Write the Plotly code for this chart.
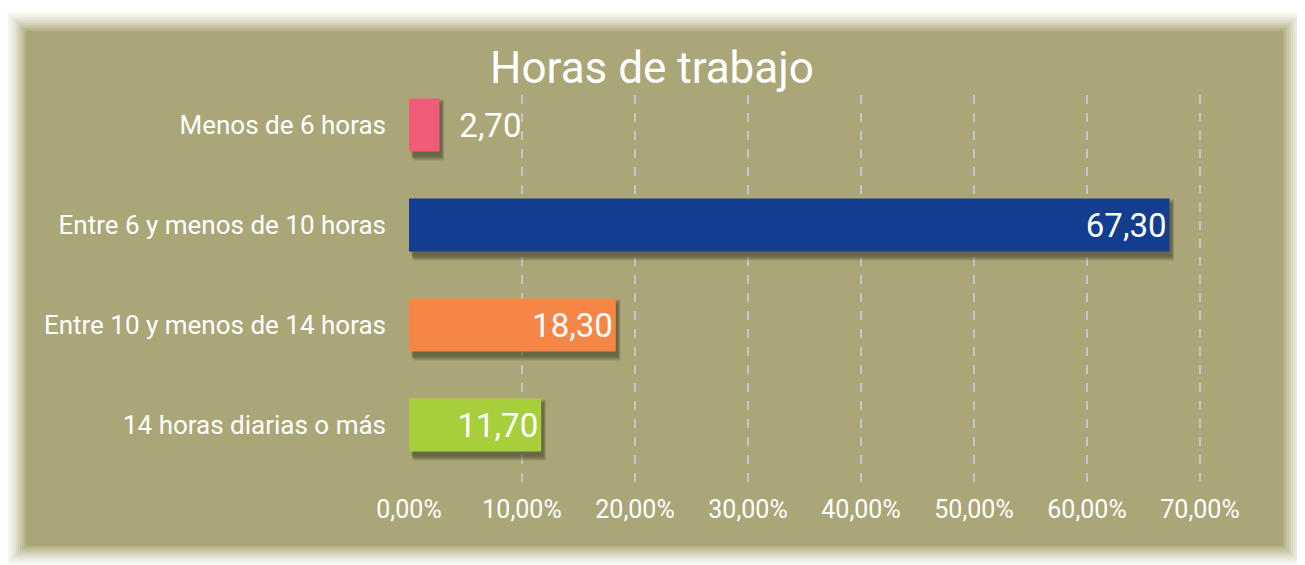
import plotly.graph_objects as go

categories = ["Menos de 6 horas", "Entre 6 y menos de 10 horas",
              "Entre 10 y menos de 14 horas", "14 horas diarias o más"]
values = [2.70, 67.30, 18.30, 11.70]
colors = ["#F05B78", "#133D8E", "#F58646", "#A7CE3B"]
text_pos = ["outside", "inside", "inside", "inside"]
tick_vals = [0, 10, 20, 30, 40, 50, 60, 70]
tick_text = ["0,00%", "10,00%", "20,00%", "30,00%", "40,00%", "50,00%", "60,00%", "70,00%"]
title = "Horas de trabajo"

OFF = 8  # page body margin
W, H = 1305 - OFF, 565 - OFF
L, R, T, B = 409 - OFF, 1223 - OFF, 75 - OFF, 475 - OFF
OLIVE = (170, 166, 120)
FONT = "Roboto"

def xp(px):
    return (px - OFF - L) / (R - L)

def yp(py):
    return (B - (py - OFF)) / (B - T)

fig = go.Figure()

bar_w = 0.53
# soft shadow layers
for k in range(5):
    w = bar_w + 0.02 * k
    fig.add_trace(go.Bar(
        y=categories, x=values, base=0.3 + 0.05 * k - 0.1, orientation="h",
        width=w, offset=-w / 2 + 0.05,
        marker=dict(color="rgba(62,60,38,0.16)", line=dict(width=0)),
        hoverinfo="skip", showlegend=False,
    ))

fig.add_trace(go.Bar(
    y=categories, x=values, orientation="h",
    width=bar_w, offset=-bar_w / 2,
    marker=dict(color=colors, line=dict(width=0)),
    texttemplate=["\u2002%{x:.2f}", "%{x:.2f}", "%{x:.2f}", "%{x:.2f}"],
    textposition=text_pos,
    insidetextanchor="end", constraintext="none", cliponaxis=False,
    textfont=dict(color="white", size=33, family=FONT),
    insidetextfont=dict(color="white", size=33, family=FONT),
    outsidetextfont=dict(color="white", size=33, family=FONT),
    showlegend=False,
))

shapes = []
# blurred background panel (outer -> inner)
steps = 12
for i in range(steps):
    t = ((i + 1) / steps) ** 1.6
    c = tuple(int(round(255 + (o - 255) * t)) for o in OLIVE)
    d = (steps - 1 - i) * 2.0
    shapes.append(dict(
        type="rect", xref="paper", yref="paper", layer="below",
        x0=xp(26 - d), x1=xp(1283 + d), y0=yp(546 + d), y1=yp(31 - d),
        fillcolor="rgb(%d,%d,%d)" % c, line=dict(width=0),
    ))
# dashed grid lines
for v in tick_vals[1:]:
    shapes.append(dict(
        type="line", xref="x", yref="paper", layer="below",
        x0=v, x1=v, y0=yp(482), y1=yp(93),
        line=dict(color="#C3C6CF", width=2, dash="dash"),
    ))
# zero axis line
shapes.append(dict(
    type="line", xref="x", yref="paper", layer="above",
    x0=-0.15, x1=-0.15, y0=yp(483), y1=yp(91),
    line=dict(color="white", width=3),
))

fig.update_layout(
    width=W, height=H,
    margin=dict(l=L, r=W - R, t=T, b=H - B),
    paper_bgcolor="white", plot_bgcolor="rgba(0,0,0,0)",
    barmode="overlay",
    separators=",.",
    font=dict(family=FONT, color="white"),
    title=dict(text=title, x=(652 - OFF) / W, xanchor="center",
               y=1 - (68 - OFF) / H, yanchor="middle",
               xref="container", yref="container",
               font=dict(size=44, color="white", family=FONT)),
    shapes=shapes,
    xaxis=dict(range=[0, (R - L) / 11.3], tickmode="array",
               tickvals=tick_vals, ticktext=tick_text, showgrid=False,
               zeroline=False, showline=False, ticks="",
               ticklabelstandoff=17,
               tickfont=dict(size=25, color="white", family=FONT)),
    yaxis=dict(categoryorder="array", categoryarray=categories,
               autorange="reversed", showgrid=False, zeroline=False,
               showline=False, ticks="", ticklabelstandoff=22,
               tickfont=dict(size=26, color="white", family=FONT)),
)

fig.write_html("out.html")
